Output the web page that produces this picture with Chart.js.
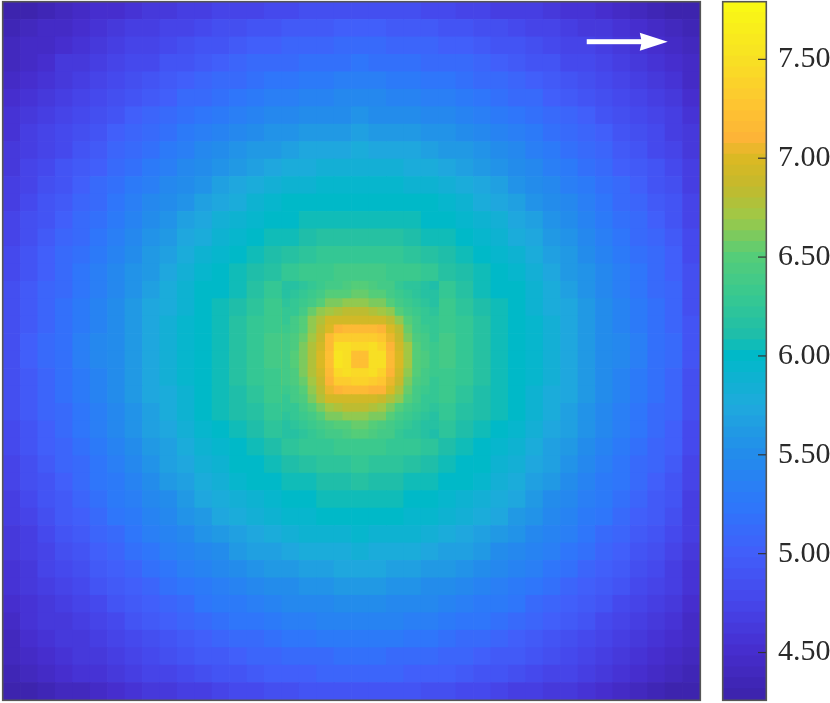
<!DOCTYPE html>
<html>
<head>
<meta charset="utf-8">
<title>Heatmap</title>
<script src="https://cdn.jsdelivr.net/npm/chart.js@4/dist/chart.umd.min.js"></script>
<style>
  html, body { margin: 0; padding: 0; background: #fff; overflow: hidden; }
  #heat { position: absolute; left: 0; top: 0; }
  #bar { position: absolute; left: 705px; top: 0; }
</style>
</head>
<body>
<canvas id="heat" width="705" height="703"></canvas>
<canvas id="bar" width="125" height="703"></canvas>
<script>
// colour scale limits and tick labels
const valueMin = 4.26;
const valueMax = 7.79;
const tickValues = [4.5, 5, 5.5, 6, 6.5, 7, 7.5];
const gridCells = 80;

// colormap anchors: value, r, g, b
const colorStops = [
  [4.26, 60, 35, 170], [4.5, 70, 45, 205], [4.75, 70, 70, 235], [5.0, 65, 95, 250],
  [5.25, 45, 120, 250], [5.5, 35, 140, 235], [5.75, 30, 170, 220], [6.0, 0, 185, 200],
  [6.1, 30, 190, 170], [6.3, 55, 200, 145], [6.5, 85, 205, 120], [6.7, 160, 200, 70],
  [6.85, 195, 185, 45], [7.0, 220, 185, 35], [7.1, 253, 180, 55], [7.25, 254, 195, 50],
  [7.5, 248, 225, 35], [7.79, 250, 250, 20]
];

// white arrow, in grid cells
const arrowFrom = [67, 4.55];
const arrowTo = [76.3, 4.55];

// outer field, one value per 2x2 block of the 80x80 grid, top row first
const coarseValues = [
[4.28,4.31,4.36,4.41,4.45,4.49,4.53,4.57,4.60,4.63,4.66,4.69,4.71,4.73,4.75,4.78,4.80,4.82,4.83,4.84,4.84,4.84,4.83,4.82,4.80,4.78,4.75,4.72,4.70,4.68,4.65,4.62,4.58,4.54,4.49,4.44,4.38,4.33,4.29,4.27],
[4.33,4.38,4.43,4.48,4.53,4.58,4.61,4.65,4.68,4.71,4.74,4.78,4.82,4.86,4.89,4.92,4.94,4.96,4.97,4.98,4.98,4.98,4.97,4.96,4.94,4.92,4.89,4.86,4.82,4.78,4.74,4.71,4.68,4.64,4.60,4.54,4.49,4.44,4.39,4.33],
[4.38,4.44,4.48,4.53,4.58,4.63,4.67,4.71,4.75,4.78,4.83,4.88,4.92,4.96,4.99,5.02,5.05,5.07,5.08,5.09,5.10,5.09,5.08,5.07,5.05,5.02,4.99,4.96,4.92,4.88,4.83,4.78,4.75,4.71,4.66,4.60,4.55,4.50,4.45,4.38],
[4.42,4.48,4.53,4.60,4.64,4.68,4.72,4.76,4.81,4.87,4.92,4.97,5.01,5.05,5.09,5.12,5.14,5.16,5.18,5.19,5.20,5.19,5.18,5.16,5.14,5.12,5.09,5.05,5.01,4.97,4.92,4.87,4.81,4.76,4.72,4.67,4.61,4.55,4.50,4.44],
[4.46,4.53,4.59,4.64,4.68,4.73,4.77,4.83,4.89,4.95,5.00,5.05,5.10,5.14,5.18,5.21,5.25,5.27,5.30,5.31,5.32,5.31,5.30,5.27,5.25,5.21,5.18,5.14,5.10,5.05,5.00,4.95,4.89,4.83,4.77,4.73,4.68,4.62,4.55,4.48],
[4.50,4.58,4.64,4.68,4.73,4.77,4.84,4.91,4.97,5.03,5.09,5.14,5.19,5.24,5.29,5.33,5.36,5.39,5.41,5.42,5.43,5.42,5.41,5.39,5.36,5.33,5.29,5.24,5.19,5.14,5.09,5.03,4.97,4.91,4.84,4.77,4.73,4.68,4.62,4.52],
[4.54,4.61,4.67,4.72,4.77,4.84,4.91,4.98,5.05,5.11,5.17,5.24,5.30,5.34,5.40,5.43,5.46,5.49,5.51,5.52,5.53,5.52,5.51,5.49,5.46,5.43,5.40,5.34,5.30,5.24,5.17,5.11,5.05,4.98,4.91,4.84,4.77,4.72,4.66,4.56],
[4.58,4.65,4.71,4.76,4.83,4.91,4.98,5.05,5.12,5.19,5.26,5.33,5.39,5.44,5.49,5.53,5.56,5.60,5.61,5.63,5.64,5.63,5.61,5.60,5.56,5.53,5.49,5.44,5.39,5.33,5.26,5.19,5.12,5.05,4.98,4.91,4.83,4.76,4.70,4.60],
[4.61,4.68,4.75,4.81,4.89,4.97,5.05,5.12,5.19,5.27,5.35,5.42,5.48,5.53,5.59,5.63,5.67,5.70,5.72,5.74,5.75,5.74,5.72,5.70,5.67,5.63,5.59,5.53,5.48,5.42,5.35,5.27,5.19,5.12,5.05,4.97,4.89,4.81,4.74,4.63],
[4.64,4.71,4.78,4.87,4.95,5.03,5.11,5.19,5.27,5.35,5.43,5.50,5.56,5.63,5.69,5.73,5.77,5.80,5.82,5.84,5.85,5.84,5.82,5.80,5.77,5.73,5.69,5.63,5.56,5.50,5.43,5.35,5.27,5.19,5.11,5.03,4.95,4.87,4.78,4.66],
[4.67,4.74,4.83,4.92,5.00,5.09,5.17,5.26,5.35,5.43,5.51,5.57,5.65,5.72,5.77,5.82,5.86,5.91,5.93,5.95,5.96,5.95,5.93,5.91,5.86,5.82,5.77,5.72,5.65,5.57,5.51,5.43,5.35,5.26,5.17,5.09,5.00,4.92,4.83,4.69],
[4.70,4.78,4.88,4.97,5.05,5.14,5.24,5.33,5.42,5.50,5.57,5.66,5.74,5.80,5.86,5.92,5.97,6.00,6.02,6.02,6.02,6.02,6.02,6.00,5.97,5.92,5.86,5.80,5.74,5.66,5.57,5.50,5.42,5.33,5.24,5.14,5.05,4.97,4.88,4.72],
[4.72,4.82,4.92,5.01,5.10,5.19,5.30,5.39,5.48,5.56,5.65,5.74,5.81,5.88,5.95,6.00,6.02,6.04,6.06,6.07,6.08,6.07,6.06,6.04,6.02,6.00,5.95,5.88,5.81,5.74,5.65,5.56,5.48,5.39,5.30,5.19,5.10,5.01,4.92,4.74],
[4.74,4.86,4.96,5.05,5.14,5.24,5.34,5.44,5.53,5.63,5.72,5.80,5.88,5.96,6.01,6.04,6.06,6.11,6.14,6.17,6.19,6.17,6.14,6.11,6.06,6.04,6.01,5.96,5.88,5.80,5.72,5.63,5.53,5.44,5.34,5.24,5.14,5.05,4.96,4.76],
[4.77,4.89,4.99,5.09,5.18,5.29,5.40,5.49,5.59,5.69,5.77,5.86,5.95,6.01,6.04,6.09,6.16,6.21,6.25,6.27,6.29,6.27,6.25,6.21,6.16,6.09,6.04,6.01,5.95,5.86,5.77,5.69,5.59,5.49,5.40,5.29,5.18,5.09,4.99,4.79],
[4.80,4.92,5.02,5.12,5.21,5.33,5.43,5.53,5.63,5.73,5.82,5.92,6.00,6.04,6.09,6.17,6.25,6.31,6.34,6.36,6.39,6.36,6.34,6.31,6.25,6.17,6.09,6.04,6.00,5.92,5.82,5.73,5.63,5.53,5.43,5.33,5.21,5.12,5.02,4.82],
[4.82,4.94,5.05,5.14,5.25,5.36,5.46,5.56,5.67,5.77,5.86,5.97,6.02,6.06,6.16,6.25,6.50,6.50,6.50,6.50,6.50,6.50,6.50,6.50,6.50,6.25,6.16,6.06,6.02,5.97,5.86,5.77,5.67,5.56,5.46,5.36,5.25,5.14,5.05,4.84],
[4.84,4.96,5.07,5.16,5.27,5.39,5.49,5.60,5.70,5.80,5.91,5.99,6.04,6.11,6.21,6.31,6.60,6.75,6.85,6.85,6.85,6.85,6.85,6.75,6.60,6.31,6.21,6.11,6.04,5.99,5.91,5.80,5.70,5.60,5.49,5.39,5.27,5.16,5.07,4.86],
[4.85,4.97,5.08,5.18,5.30,5.41,5.51,5.61,5.72,5.82,5.93,6.01,6.06,6.14,6.25,6.34,6.65,6.95,7.20,7.30,7.30,7.30,7.20,6.95,6.65,6.34,6.25,6.14,6.06,6.01,5.93,5.82,5.72,5.61,5.51,5.41,5.30,5.18,5.08,4.87],
[4.86,4.98,5.09,5.19,5.31,5.42,5.52,5.63,5.74,5.84,5.95,6.02,6.07,6.18,6.28,6.38,6.70,7.05,7.40,7.40,7.40,7.40,7.40,7.05,6.70,6.38,6.28,6.18,6.07,6.02,5.95,5.84,5.74,5.63,5.52,5.42,5.31,5.19,5.09,4.88],
[4.86,4.98,5.09,5.19,5.31,5.42,5.52,5.63,5.74,5.84,5.95,6.02,6.07,6.18,6.28,6.38,6.70,7.05,7.45,7.35,7.20,7.35,7.45,7.05,6.70,6.38,6.28,6.18,6.07,6.02,5.95,5.84,5.74,5.63,5.52,5.42,5.31,5.19,5.09,4.88],
[4.84,4.96,5.07,5.17,5.29,5.40,5.50,5.61,5.72,5.82,5.93,6.01,6.06,6.16,6.26,6.35,6.70,7.05,7.40,7.40,7.40,7.40,7.40,7.05,6.70,6.35,6.26,6.16,6.06,6.01,5.93,5.82,5.72,5.61,5.50,5.40,5.29,5.17,5.07,4.86],
[4.83,4.95,5.06,5.16,5.28,5.39,5.49,5.59,5.70,5.80,5.91,6.00,6.05,6.12,6.23,6.31,6.65,6.95,7.20,7.30,7.30,7.30,7.20,6.95,6.65,6.31,6.23,6.12,6.05,6.00,5.91,5.80,5.70,5.59,5.49,5.39,5.28,5.16,5.06,4.85],
[4.82,4.94,5.05,5.14,5.25,5.36,5.46,5.57,5.68,5.78,5.89,5.97,6.03,6.09,6.19,6.28,6.60,6.75,6.85,6.85,6.85,6.85,6.85,6.75,6.60,6.28,6.19,6.09,6.03,5.97,5.89,5.78,5.68,5.57,5.46,5.36,5.25,5.14,5.05,4.84],
[4.79,4.91,5.02,5.11,5.22,5.33,5.43,5.53,5.64,5.74,5.83,5.94,6.01,6.05,6.13,6.21,6.50,6.50,6.50,6.50,6.50,6.50,6.50,6.50,6.50,6.21,6.13,6.05,6.01,5.94,5.83,5.74,5.64,5.53,5.43,5.33,5.22,5.11,5.02,4.81],
[4.77,4.88,4.98,5.08,5.17,5.29,5.39,5.49,5.59,5.69,5.78,5.88,5.96,6.02,6.06,6.13,6.20,6.26,6.29,6.33,6.35,6.33,6.29,6.26,6.20,6.13,6.06,6.02,5.96,5.88,5.78,5.69,5.59,5.49,5.39,5.29,5.17,5.08,4.98,4.78],
[4.74,4.85,4.95,5.05,5.14,5.25,5.36,5.45,5.55,5.65,5.73,5.82,5.91,5.98,6.02,6.06,6.12,6.17,6.20,6.24,6.26,6.24,6.20,6.17,6.12,6.06,6.02,5.98,5.91,5.82,5.73,5.65,5.55,5.45,5.36,5.25,5.14,5.05,4.95,4.75],
[4.71,4.82,4.92,5.01,5.10,5.20,5.30,5.40,5.49,5.59,5.68,5.76,5.84,5.92,5.98,6.02,6.04,6.08,6.10,6.13,6.15,6.13,6.10,6.08,6.04,6.02,5.98,5.92,5.84,5.76,5.68,5.59,5.49,5.40,5.30,5.20,5.10,5.01,4.92,4.72],
[4.69,4.78,4.88,4.97,5.06,5.15,5.26,5.35,5.44,5.52,5.61,5.70,5.77,5.84,5.91,5.96,6.01,6.02,6.04,6.05,6.05,6.05,6.04,6.02,6.01,5.96,5.91,5.84,5.77,5.70,5.61,5.52,5.44,5.35,5.26,5.15,5.06,4.97,4.88,4.70],
[4.66,4.74,4.84,4.93,5.01,5.10,5.20,5.29,5.38,5.46,5.53,5.62,5.70,5.76,5.82,5.88,5.93,5.96,5.99,6.00,6.01,6.00,5.99,5.96,5.93,5.88,5.82,5.76,5.70,5.62,5.53,5.46,5.38,5.29,5.20,5.10,5.01,4.93,4.84,4.68],
[4.63,4.70,4.79,4.88,4.96,5.05,5.13,5.22,5.31,5.39,5.47,5.53,5.61,5.68,5.73,5.78,5.82,5.87,5.89,5.91,5.92,5.91,5.89,5.87,5.82,5.78,5.73,5.68,5.61,5.53,5.47,5.39,5.31,5.22,5.13,5.05,4.96,4.88,4.79,4.65],
[4.60,4.67,4.74,4.83,4.91,4.99,5.07,5.15,5.23,5.31,5.39,5.46,5.52,5.59,5.65,5.69,5.73,5.76,5.78,5.80,5.81,5.80,5.78,5.76,5.73,5.69,5.65,5.59,5.52,5.46,5.39,5.31,5.23,5.15,5.07,4.99,4.91,4.83,4.74,4.62],
[4.57,4.64,4.71,4.77,4.85,4.93,5.01,5.08,5.15,5.23,5.31,5.38,5.44,5.49,5.55,5.59,5.63,5.66,5.68,5.70,5.71,5.70,5.68,5.66,5.63,5.59,5.55,5.49,5.44,5.38,5.31,5.23,5.15,5.08,5.01,4.93,4.85,4.77,4.70,4.59],
[4.54,4.61,4.67,4.72,4.79,4.87,4.94,5.01,5.08,5.15,5.22,5.29,5.35,5.40,5.45,5.49,5.52,5.56,5.57,5.59,5.60,5.59,5.57,5.56,5.52,5.49,5.45,5.40,5.35,5.29,5.22,5.15,5.08,5.01,4.94,4.87,4.79,4.72,4.66,4.56],
[4.50,4.57,4.63,4.68,4.73,4.80,4.87,4.94,5.01,5.07,5.13,5.20,5.26,5.30,5.36,5.39,5.42,5.45,5.47,5.48,5.49,5.48,5.47,5.45,5.42,5.39,5.36,5.30,5.26,5.20,5.13,5.07,5.01,4.94,4.87,4.80,4.73,4.68,4.62,4.52],
[4.46,4.54,4.60,4.64,4.69,4.73,4.80,4.87,4.93,4.99,5.05,5.10,5.15,5.20,5.25,5.29,5.32,5.35,5.37,5.38,5.39,5.38,5.37,5.35,5.32,5.29,5.25,5.20,5.15,5.10,5.05,4.99,4.93,4.87,4.80,4.73,4.69,4.64,4.58,4.48],
[4.42,4.49,4.55,4.60,4.64,4.69,4.73,4.79,4.85,4.91,4.96,5.01,5.06,5.10,5.14,5.17,5.21,5.23,5.26,5.27,5.28,5.27,5.26,5.23,5.21,5.17,5.14,5.10,5.06,5.01,4.96,4.91,4.85,4.79,4.73,4.69,4.64,4.58,4.51,4.44],
[4.38,4.44,4.49,4.56,4.60,4.64,4.68,4.72,4.77,4.83,4.88,4.93,4.97,5.01,5.05,5.08,5.10,5.12,5.14,5.15,5.16,5.15,5.14,5.12,5.10,5.08,5.05,5.01,4.97,4.93,4.88,4.83,4.77,4.72,4.68,4.63,4.57,4.51,4.46,4.40],
[4.34,4.40,4.44,4.49,4.54,4.59,4.63,4.67,4.71,4.74,4.79,4.84,4.88,4.92,4.95,4.98,5.01,5.03,5.04,5.05,5.06,5.05,5.04,5.03,5.01,4.98,4.95,4.92,4.88,4.84,4.79,4.74,4.71,4.67,4.62,4.56,4.51,4.46,4.41,4.34],
[4.27,4.30,4.34,4.38,4.42,4.47,4.52,4.56,4.60,4.63,4.66,4.70,4.74,4.78,4.81,4.84,4.86,4.88,4.89,4.90,4.90,4.90,4.89,4.88,4.86,4.84,4.81,4.78,4.74,4.70,4.66,4.63,4.60,4.56,4.52,4.46,4.41,4.36,4.31,4.27]
];

// peak, cell by cell: columns 32-49, rows 32-49 of the 80x80 grid
const peakStartCell = 32;
const peakValues = [
[6.14,6.18,6.22,6.26,6.32,6.38,6.40,6.46,6.48,6.48,6.46,6.40,6.36,6.30,6.24,6.20,6.16,6.12],
[6.18,6.22,6.26,6.32,6.40,6.48,6.50,6.52,6.55,6.55,6.52,6.48,6.40,6.34,6.28,6.24,6.18,6.15],
[6.22,6.26,6.32,6.40,6.50,6.60,6.62,6.65,6.65,6.65,6.62,6.60,6.50,6.40,6.32,6.26,6.22,6.18],
[6.26,6.30,6.40,6.55,6.65,6.72,6.78,6.80,6.80,6.80,6.78,6.72,6.65,6.50,6.40,6.32,6.26,6.22],
[6.30,6.36,6.50,6.65,6.75,6.92,6.95,6.95,6.95,6.95,6.95,6.92,6.80,6.65,6.50,6.36,6.30,6.25],
[6.34,6.40,6.50,6.68,6.85,7.00,7.12,7.15,7.15,7.15,7.15,7.12,6.98,6.80,6.55,6.40,6.34,6.26],
[6.36,6.44,6.55,6.72,6.90,7.15,7.30,7.32,7.32,7.32,7.32,7.28,7.05,6.90,6.60,6.46,6.36,6.30],
[6.40,6.46,6.60,6.75,6.95,7.18,7.50,7.48,7.42,7.42,7.48,7.40,7.12,6.95,6.70,6.48,6.40,6.34],
[6.40,6.50,6.62,6.78,6.98,7.20,7.52,7.50,7.20,7.20,7.50,7.50,7.15,6.98,6.70,6.52,6.42,6.34],
[6.40,6.50,6.62,6.78,6.98,7.20,7.52,7.50,7.20,7.20,7.50,7.50,7.15,6.98,6.70,6.52,6.42,6.34],
[6.40,6.46,6.60,6.75,6.95,7.18,7.42,7.48,7.45,7.45,7.48,7.40,7.12,6.95,6.68,6.48,6.40,6.34],
[6.36,6.44,6.55,6.72,6.90,7.12,7.30,7.32,7.35,7.35,7.32,7.28,7.05,6.88,6.60,6.46,6.36,6.30],
[6.34,6.40,6.50,6.68,6.85,7.02,7.12,7.15,7.15,7.15,7.12,7.10,6.98,6.78,6.55,6.40,6.34,6.26],
[6.30,6.36,6.46,6.62,6.78,6.92,6.95,6.95,6.95,6.95,6.95,6.90,6.78,6.65,6.50,6.36,6.30,6.25],
[6.26,6.30,6.40,6.52,6.62,6.72,6.78,6.80,6.80,6.80,6.78,6.70,6.62,6.50,6.40,6.32,6.26,6.22],
[6.22,6.26,6.32,6.40,6.50,6.58,6.62,6.65,6.65,6.65,6.62,6.58,6.50,6.40,6.32,6.26,6.22,6.18],
[6.18,6.22,6.26,6.32,6.40,6.46,6.50,6.52,6.55,6.55,6.52,6.46,6.40,6.34,6.28,6.24,6.18,6.15],
[6.14,6.18,6.22,6.26,6.32,6.38,6.40,6.46,6.48,6.48,6.46,6.40,6.36,6.30,6.24,6.20,6.16,6.12]
];

// 64 flat levels, like the colorbar of the reference
const LEVELS = 64;
function colorFor(v) {
  const step = (valueMax - valueMin) / LEVELS;
  let level = Math.floor((v - valueMin) / step);
  level = Math.max(0, Math.min(LEVELS - 1, level));
  const t = valueMin + (level + 0.5) * step;
  let k = 0;
  while (k < colorStops.length - 2 && t > colorStops[k + 1][0]) k++;
  const a = colorStops[k], b = colorStops[k + 1];
  const f = (t - a[0]) / (b[0] - a[0]);
  const c = [1, 2, 3].map(n => Math.round(a[n] + (b[n] - a[n]) * f));
  return 'rgb(' + c[0] + ',' + c[1] + ',' + c[2] + ')';
}

function toPoints(rows, size, start) {
  const pts = [];
  rows.forEach((row, j) => row.forEach((v, i) => {
    pts.push({ x: start + (i + 0.5) * size, y: start + (j + 0.5) * size, v: v });
  }));
  return pts;
}

// rect point side is radius * sqrt(2), radius comes from the scale size
// cells overlap a little so no white seams show between them
function cellDataset(points, size) {
  const side = ctx => {
    const s = ctx.chart.scales.x;
    return (s.getPixelForValue(size) - s.getPixelForValue(0) + 0.7) / Math.SQRT2;
  };
  return {
    data: points,
    pointStyle: 'rect',
    pointRadius: side,
    pointHoverRadius: side,
    pointBackgroundColor: ctx => ctx.raw ? colorFor(ctx.raw.v) : '#000',
    pointBorderWidth: 0,
    showLine: false,
    clip: 0
  };
}

const framePlugin = {
  id: 'frame',
  afterDraw(chart) {
    const c = chart.ctx, a = chart.chartArea;
    c.save();
    c.strokeStyle = '#555555';
    c.lineWidth = 1.6;
    c.strokeRect(a.left - 0.3, a.top - 0.3, a.right - a.left + 0.6, a.bottom - a.top + 0.6);
    c.restore();
  }
};

const arrowPlugin = {
  id: 'arrow',
  afterDatasetsDraw(chart) {
    const c = chart.ctx, sx = chart.scales.x, sy = chart.scales.y;
    const x0 = sx.getPixelForValue(arrowFrom[0]), y0 = sy.getPixelForValue(arrowFrom[1]);
    const x1 = sx.getPixelForValue(arrowTo[0]);
    c.save();
    c.fillStyle = '#ffffff';
    c.fillRect(x0, y0 - 2.5, x1 - x0 - 20, 5);
    c.beginPath();
    c.moveTo(x1, y0);
    c.lineTo(x1 - 28, y0 - 9);
    c.lineTo(x1 - 26, y0);
    c.lineTo(x1 - 28, y0 + 9);
    c.closePath();
    c.fill();
    c.restore();
  }
};

// datasets paint last to first, so the fine peak goes first to land on top
new Chart(document.getElementById('heat'), {
  type: 'scatter',
  data: {
    datasets: [
      cellDataset(toPoints(peakValues, 1, peakStartCell), 1),
      cellDataset(toPoints(coarseValues, 2, 0), 2)
    ]
  },
  options: {
    responsive: false,
    animation: false,
    events: [],
    layout: { padding: { left: 3, top: 2, right: 5, bottom: 3 } },
    plugins: { legend: { display: false }, tooltip: { enabled: false } },
    scales: {
      x: { type: 'linear', display: false, min: 0, max: gridCells },
      y: { type: 'linear', display: false, min: 0, max: gridCells, reverse: true }
    }
  },
  plugins: [arrowPlugin, framePlugin]
});

// colorbar, one floating bar per level
const barDatasets = [];
for (let i = 0; i < LEVELS; i++) {
  const step = (valueMax - valueMin) / LEVELS;
  const lo = valueMin + i * step;
  const col = colorFor(lo + step / 2);
  barDatasets.push({
    data: [[Math.max(valueMin, lo - step * 0.05), Math.min(valueMax, lo + step * 1.05)]],
    backgroundColor: col,
    borderWidth: 0,
    grouped: false,
    barPercentage: 1,
    categoryPercentage: 1
  });
}

const tickMarks = {
  id: 'tickMarks',
  afterDraw(chart) {
    const c = chart.ctx, s = chart.scales.y, right = chart.chartArea.right;
    c.save();
    c.strokeStyle = '#333333';
    c.lineWidth = 1.2;
    tickValues.forEach(v => {
      const y = s.getPixelForValue(v);
      c.beginPath();
      c.moveTo(right - 8, y);
      c.lineTo(right, y);
      c.stroke();
    });
    c.restore();
  }
};

new Chart(document.getElementById('bar'), {
  type: 'bar',
  data: { labels: [''], datasets: barDatasets },
  options: {
    responsive: false,
    animation: false,
    events: [],
    layout: { padding: { left: 18, top: 2, right: 0, bottom: 3 } },
    plugins: { legend: { display: false }, tooltip: { enabled: false } },
    scales: {
      x: { display: false },
      y: {
        position: 'right',
        min: valueMin,
        max: valueMax,
        grid: { display: false, drawTicks: false },
        border: { display: false },
        afterFit(scale) { scale.width = 64; scale.paddingTop = 0; scale.paddingBottom = 0; },
        afterBuildTicks(scale) { scale.ticks = tickValues.map(v => ({ value: v })); },
        ticks: {
          padding: 12,
          color: '#2a2a2a',
          font: { family: '"Liberation Serif"', size: 30 },
          callback: v => v.toFixed(2)
        }
      }
    }
  },
  plugins: [framePlugin, tickMarks]
});
</script>
</body>
</html>
